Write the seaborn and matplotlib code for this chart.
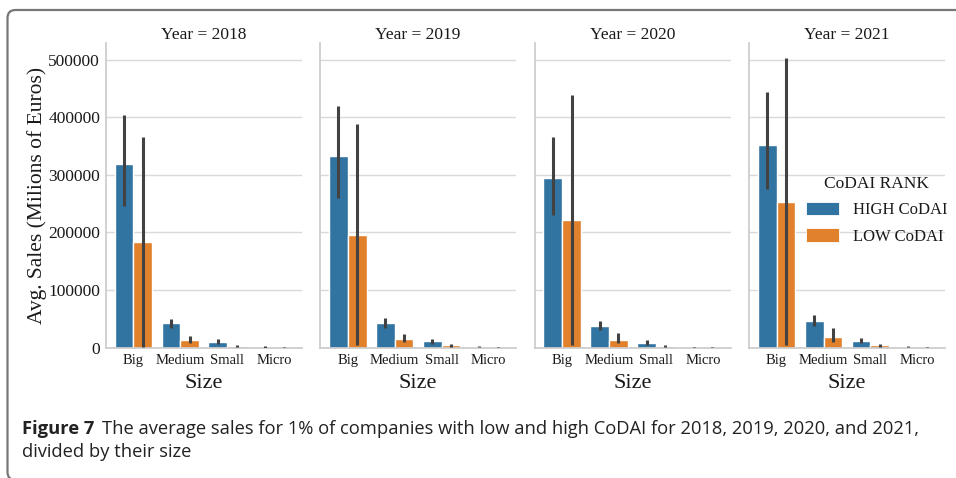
import numpy as np
import pandas as pd
import seaborn as sns
import matplotlib.pyplot as plt
from matplotlib import font_manager
from matplotlib.patches import Patch, FancyBboxPatch

# ---- data -------------------------------------------------------------
years = [2018, 2019, 2020, 2021]
sizes = ["Big", "Medium", "Small", "Micro"]
ranks = ["HIGH CoDAI", "LOW CoDAI"]

# average sales (millions of euros), one row per year, columns follow `sizes`
high_mean = [[319000, 42000, 10000, 1000],
             [332000, 43000, 12000, 1500],
             [295000, 38000, 9000, 500],
             [351000, 47000, 12000, 1500]]
low_mean = [[184000, 14000, 3000, 300],
            [196000, 15000, 4000, 500],
            [221000, 14000, 3000, 200],
            [253000, 19000, 4000, 500]]

# confidence interval bounds
high_lo = [[246000, 35000, 6000, 300],
           [259000, 35000, 7000, 500],
           [231000, 31000, 5000, 100],
           [276000, 38000, 8000, 500]]
high_hi = [[404000, 50000, 15000, 3000],
           [420000, 52000, 15000, 3000],
           [366000, 47000, 14000, 2000],
           [444000, 57000, 17000, 3000]]
low_lo = [[2000, 9000, 2000, 100],
          [5000, 10000, 2000, 200],
          [5000, 8000, 1500, 100],
          [5000, 10000, 2000, 200]]
low_hi = [[366000, 21000, 4000, 500],
          [389000, 24000, 6000, 800],
          [438000, 26000, 5000, 400],
          [503000, 34000, 6000, 1500]]

caption_head = "Figure 7"
caption_body = ("The average sales for 1% of companies with low and high CoDAI for 2018, 2019, 2020, and 2021,\n"
                "divided by their size")

# ---- tidy table -------------------------------------------------------
rows = []
for yi, yr in enumerate(years):
    for si, sz in enumerate(sizes):
        rows.append(dict(Year=yr, Size=sz, Rank=ranks[0], Sales=high_mean[yi][si],
                         lo=high_lo[yi][si], hi=high_hi[yi][si]))
        rows.append(dict(Year=yr, Size=sz, Rank=ranks[1], Sales=low_mean[yi][si],
                         lo=low_lo[yi][si], hi=low_hi[yi][si]))
df = pd.DataFrame(rows)

# ---- style ------------------------------------------------------------
sns.set_theme(style="whitegrid", palette="tab10")
plt.rcParams["font.family"] = ["Liberation Serif", "DejaVu Serif"]
plt.rcParams["axes.edgecolor"] = ".8"
plt.rcParams["grid.color"] = ".85"
plt.rcParams["text.color"] = ".1"
plt.rcParams["axes.labelcolor"] = ".1"
plt.rcParams["xtick.color"] = ".1"
plt.rcParams["ytick.color"] = ".1"

g = sns.catplot(data=df, x="Size", y="Sales", hue="Rank", col="Year",
                kind="bar", order=sizes, hue_order=ranks, errorbar=None,
                legend=False, height=4, aspect=0.5)
fig = g.figure
fig.set_size_inches(9.56, 4.78)
fig.set_dpi(100)
fig.subplots_adjust(left=0.1106, right=0.9885, bottom=0.2726, top=0.9094, wspace=0.0934)

# error bars drawn at the centre of each seaborn bar
for ax, yr in zip(g.axes.flat, years):
    sub = df[df["Year"] == yr]
    for p in ax.patches:
        cx = p.get_x() + p.get_width() / 2
        ci = int(round(cx))
        rank = ranks[0] if cx < ci else ranks[1]
        r = sub[(sub["Size"] == sizes[ci]) & (sub["Rank"] == rank)].iloc[0]
        ax.plot([cx, cx], [r["lo"], r["hi"]], color=".26", lw=2.2,
                solid_capstyle="butt", zorder=3)
    ax.set_title(f"Year = {yr}", fontsize=12.5, pad=3)
    ax.set_xlabel("Size", fontsize=16, labelpad=5)
    ax.tick_params(axis="x", labelsize=10.5, length=0, pad=4.5)
    ax.tick_params(axis="y", labelsize=12.5, length=0, pad=4)
    ax.grid(axis="x", visible=False)
    ax.set_ylim(0, max(high_hi[0] + low_hi[0] + high_hi[-1] + low_hi[-1]) * 1.05)

g.axes.flat[0].set_ylabel("Avg. Sales (Milions of Euros)", fontsize=15.5, labelpad=1)

# legend with the bar colours
ax0 = g.axes.flat[0]
cols = {}
for p in ax0.patches:
    cx = p.get_x() + p.get_width() / 2
    rank = ranks[0] if cx < round(cx) else ranks[1]
    cols.setdefault(rank, p.get_facecolor())
handles = [Patch(facecolor=cols[r], edgecolor="white", lw=0.6) for r in ranks]
fig.legend(handles, ranks, title="CoDAI RANK", loc="upper left",
           bbox_to_anchor=(0.836, 0.646), frameon=False, fontsize=12,
           title_fontsize=12.5, handlelength=2.0, handleheight=0.85,
           handletextpad=0.8, labelspacing=0.6, borderaxespad=0)

# caption: pick a sans family that ships a bold face
bold_faces = {f.name for f in font_manager.fontManager.ttflist
              if (f.weight if isinstance(f.weight, int) else 400) >= 600
              or f.weight in ("bold", "semibold", "demibold")}
cap_family = next((n for n in ["Noto Sans", "Open Sans", "Lato", "Roboto"] if n in bold_faces),
                  "DejaVu Sans")
cap_size = 13.2
head = fig.text(22 / 956, 1 - 429 / 478, caption_head, fontsize=cap_size,
                fontweight="bold", family=cap_family, color="#222222", va="center")
fig.canvas.draw()
bb = head.get_window_extent()
fig.text((bb.x1 + 8) / 956, 1 - 429 / 478, caption_body.split("\n")[0],
         fontsize=cap_size, family=cap_family, color="#222222", va="center")
fig.text(22 / 956, 1 - 452 / 478, caption_body.split("\n")[1],
         fontsize=cap_size, family=cap_family, color="#222222", va="center")

# rounded frame around the figure
frame = FancyBboxPatch((7.5, -2), 1000, 470, boxstyle="round,pad=0,rounding_size=8",
                       transform=None, fill=False, edgecolor="#777777", lw=1.6,
                       zorder=10)
fig.patches.append(frame)

fig.savefig("out.png", dpi=100)
